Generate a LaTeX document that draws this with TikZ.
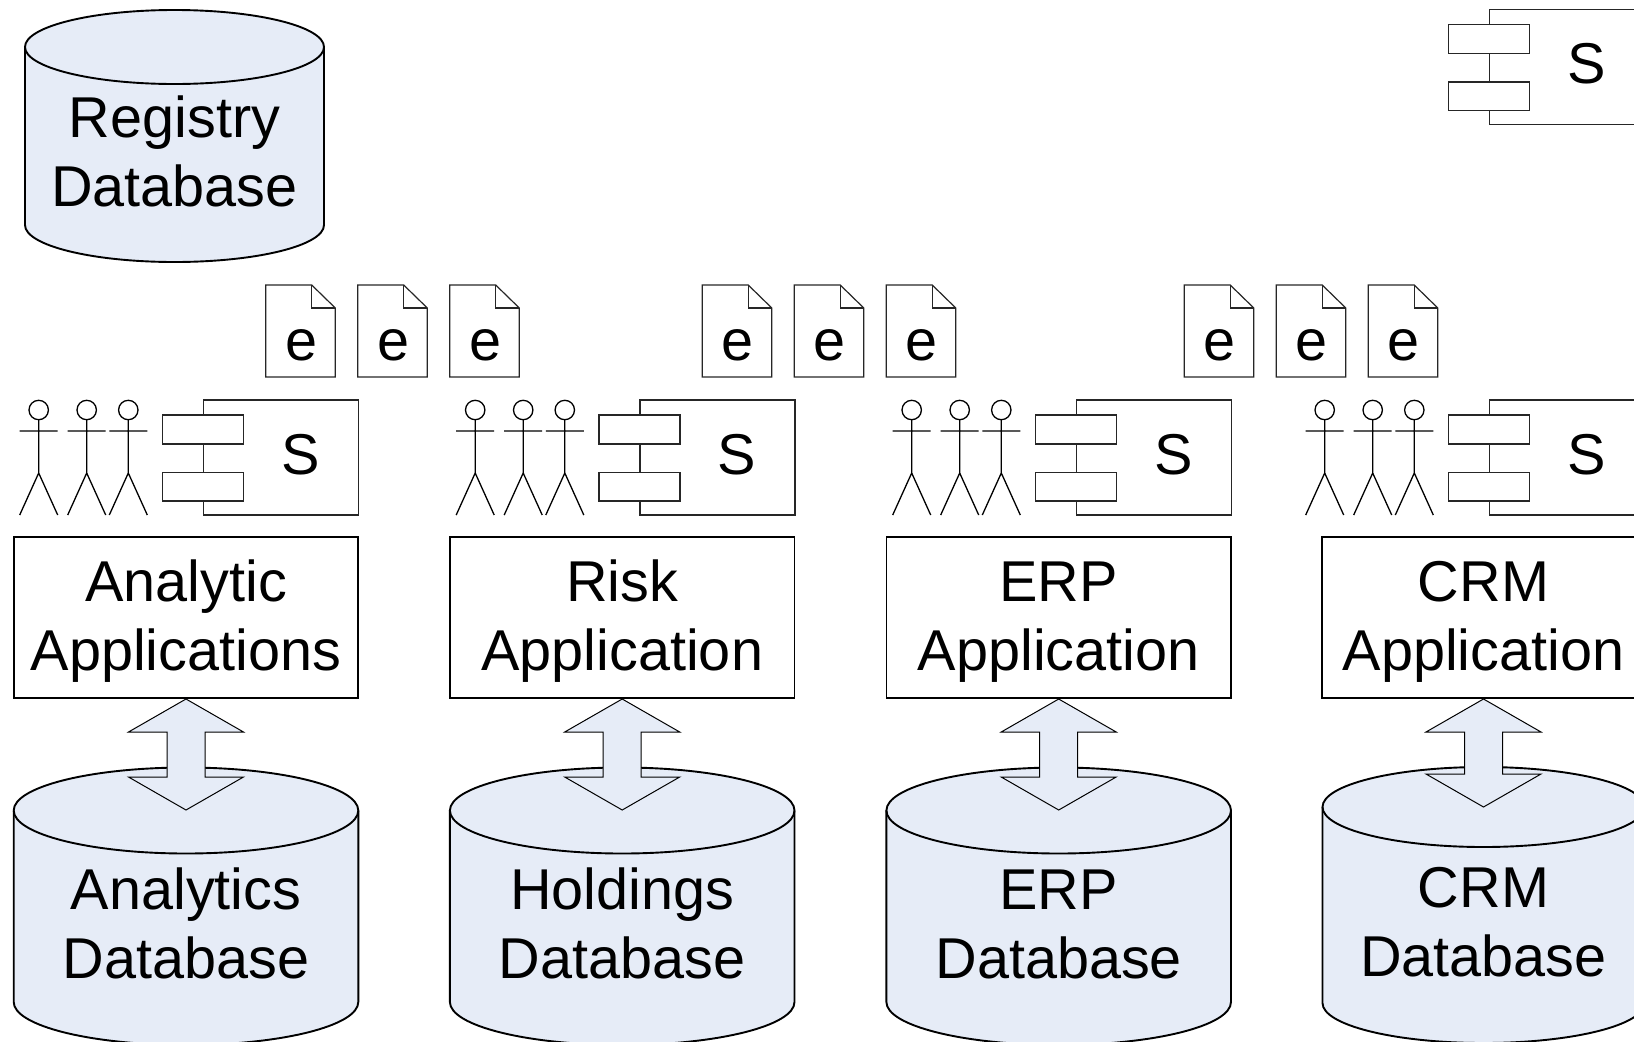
\documentclass[tikz,border=0pt]{standalone}
\usepackage{fontspec}
\setmainfont{Liberation Sans}
\definecolor{dbblue}{HTML}{E6ECF7}
\tikzset{
    thinline/.style={black!85, line width=1.2pt},
    thickline/.style={black, line width=1.9pt},
    bigtext/.style={font=\fontsize{57.6}{69}\selectfont, align=center, inner sep=0pt, text height=110pt, text depth=9pt},
    glyph/.style={font=\fontsize{57.6}{69}\selectfont, inner sep=0pt, anchor=base},
    appbox/.style={bigtext, draw, thickline, fill=white, minimum height=161pt, text height=114pt},
    blockarrow/.style={fill=dbblue, draw=black, line width=1pt, line join=miter}
}
% cylinder: centre x, half width, y of top centre, y of bottom centre, ry
\newcommand{\dbshape}[5]{
    \draw[thickline, fill=dbblue] (#1-#2,#3) -- (#1-#2,#4) arc[start angle=180, end angle=360, x radius=#2, y radius=-#5]
        -- (#1+#2,#3) arc[start angle=0, end angle=180, x radius=#2, y radius=-#5] -- cycle;
    \draw[thickline] (#1-#2,#3) arc[start angle=180, end angle=360, x radius=#2, y radius=-#5];
}
% double block arrow: centre x, y of lower head base, y of lower tip
\newcommand{\blockarrow}[3]{
    \draw[blockarrow] (#1,699) -- (#1+57.5,732) -- (#1+19,732) -- (#1+19,#2) -- (#1+57.5,#2) -- (#1,#3)
        -- (#1-57.5,#2) -- (#1-19,#2) -- (#1-19,732) -- (#1-57.5,732) -- cycle;
}
% component: left edge of big box, top of big box, name
\newcommand{\component}[3]{
    \begin{scope}[shift={(#1,#2)}]
        \draw[thinline] (0,0) rectangle (155,115);
        \draw[thinline, fill=white] (-41,15) rectangle (40,44);
        \draw[thinline, fill=white] (-41,72.5) rectangle (40,101);
        \node[glyph] (#3) at (97,74) {S};
    \end{scope}
}
\newcommand{\actors}[1]{
    \foreach \px in {0,48,89.6} {
        \begin{scope}[shift={(#1+\px,0)}]
            \draw[thickline, line width=1.3pt] (0,410) circle (9.7pt);
            \draw[thickline, line width=1.3pt] (0,420) -- (0,473) (-19,431) -- (19,431) (-19,515) -- (0,473) -- (19,515);
        \end{scope}
    }
}
\newcommand{\docs}[2]{
    \foreach \dx [count=\k] in {0,92,184} {
        \begin{scope}[shift={(#1+\dx,285)}]
            \draw[thinline] (0,0) -- (46,0) -- (69.6,23) -- (69.6,92) -- (0,92) -- cycle;
            \draw[thinline] (46,0) -- (46,23) -- (69.6,23);
            \node[glyph] (#2\k) at (35.4,75) {e};
        \end{scope}
    }
}
\begin{document}
\begin{tikzpicture}[x=1pt, y=-1pt]
    \useasboundingbox (0,0) rectangle (1634,1042);
    \clip (0,0) rectangle (1634,1042);

    \dbshape{174.5}{149.5}{47}{225}{37}
    \node[bigtext] (registrydb) at (174.5,155.5) {Registry\\Database};
    \component{1489.7}{9.5}{topcomp}

    \docs{265.7}{analyticdoc}
    \docs{702.2}{riskdoc}
    \docs{1184.2}{erpdoc}

    \foreach \ox/\cx/\aname/\apptext/\dbtext in {
        0/186/analytic/{Analytic\\Applications}/{Analytics\\Database},
        436.5/622.2/risk/{Risk\\Application}/{Holdings\\Database},
        873/1058.7/erp/{ERP\\Application}/{ERP\\Database}} {
        \actors{38.7+\ox}
        \component{203.4+\ox}{400}{\aname comp}
        \node[appbox, minimum width=344.5pt] (\aname app) at (\cx,617.5) {\apptext};
        \dbshape{\cx}{172.3}{810.5}{1002}{43}
        \blockarrow{\cx}{777}{810}
        \node[bigtext] (\aname db) at (\cx,927.5) {\dbtext};
    }

    % last column is narrower and runs off the page
    \actors{38.7+1286}
    \component{1489.7}{400}{crmcomp}
    \node[appbox, minimum width=323pt] (crmapp) at (1483.5,617.5) {CRM\\Application};
    \dbshape{1483.5}{161}{807}{1003}{40}
    \blockarrow{1483.5}{774}{807}
    \node[bigtext] (crmdb) at (1483.5,926) {CRM\\Database};
\end{tikzpicture}
\end{document}
